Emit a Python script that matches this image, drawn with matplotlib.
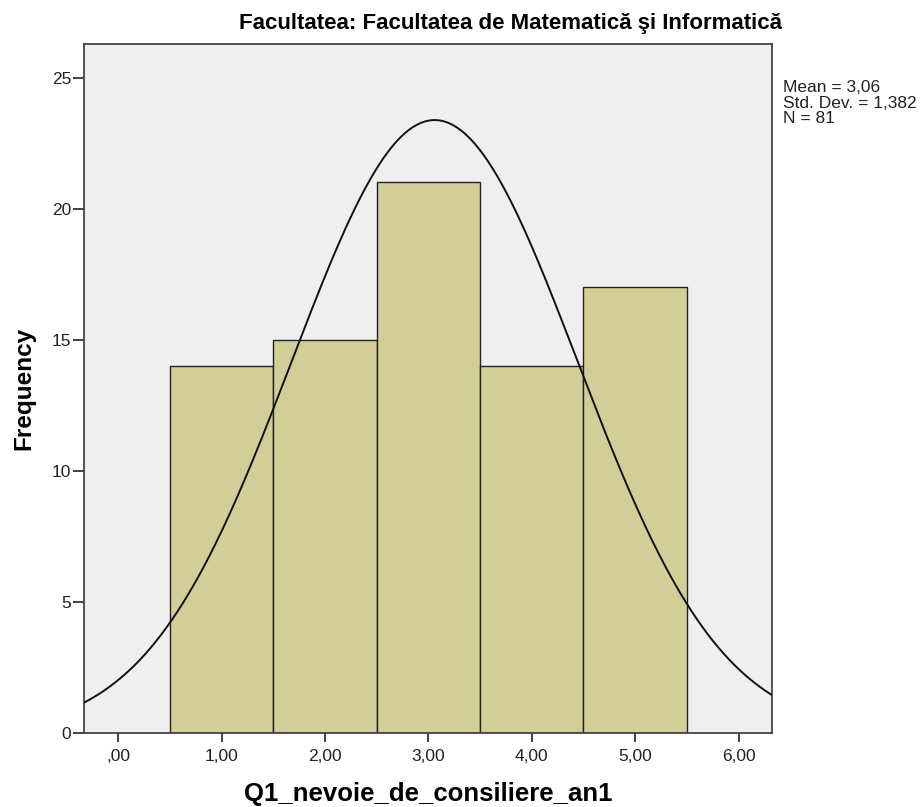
import numpy as np
import matplotlib.pyplot as plt

plt.rcParams['font.family'] = ['Liberation Sans', 'DejaVu Sans']

# histogram data
bin_centers = [1, 2, 3, 4, 5]
counts = [14, 15, 21, 14, 17]
x_ticks = [0, 1, 2, 3, 4, 5, 6]
x_tick_labels = [',00', '1,00', '2,00', '3,00', '4,00', '5,00', '6,00']
y_ticks = [0, 5, 10, 15, 20, 25]

mean = 3.06
std = 1.382
n = 81

fig = plt.figure(figsize=(9.23, 8.07), dpi=100)
ax = fig.add_axes([0.091, 0.092, 0.745, 0.853])
ax.set_facecolor('#efefef')

ax.bar(bin_centers, counts, width=1.0, color='#d3ce98', edgecolor='#222222', linewidth=1.0, zorder=2)

# normal curve fitted from the reported mean / sd / N
xs = np.linspace(-0.4, 6.4, 400)
ys = n * 1.0 / (std * np.sqrt(2 * np.pi)) * np.exp(-0.5 * ((xs - mean) / std) ** 2)
ax.plot(xs, ys, color='#111111', linewidth=1.4, zorder=3)

ax.set_xlim(-0.332, 6.32)
ax.set_ylim(0, 26.27)
ax.set_xticks(x_ticks)
ax.set_xticklabels(x_tick_labels)
ax.set_yticks(y_ticks)
ax.tick_params(direction='out', width=1.3, color='#333333', labelsize=12.5, labelcolor='#222222')
ax.tick_params(axis='x', length=6.5, pad=5.5)
ax.tick_params(axis='y', length=8, pad=1)
for s in ax.spines.values():
    s.set_color('#444444')
    s.set_linewidth(1.3)

ax.set_xlabel('Q1_nevoie_de_consiliere_an1', fontsize=18.5, fontweight='bold', labelpad=13)
ax.set_ylabel('Frequency', fontsize=17.5, fontweight='bold', labelpad=12)

fig.text(511 / 923, 1 - 24 / 807, 'Facultatea: Facultatea de Matematică şi Informatică',
         ha='center', va='center', fontsize=16, fontweight='bold')

fig.text(783 / 923, 1 - 80 / 807, 'Mean = 3,06\nStd. Dev. = 1,382\nN = 81',
         ha='left', va='top', fontsize=12.5, linespacing=1.05, color='#222222')

fig.savefig('out.png', dpi=100)
